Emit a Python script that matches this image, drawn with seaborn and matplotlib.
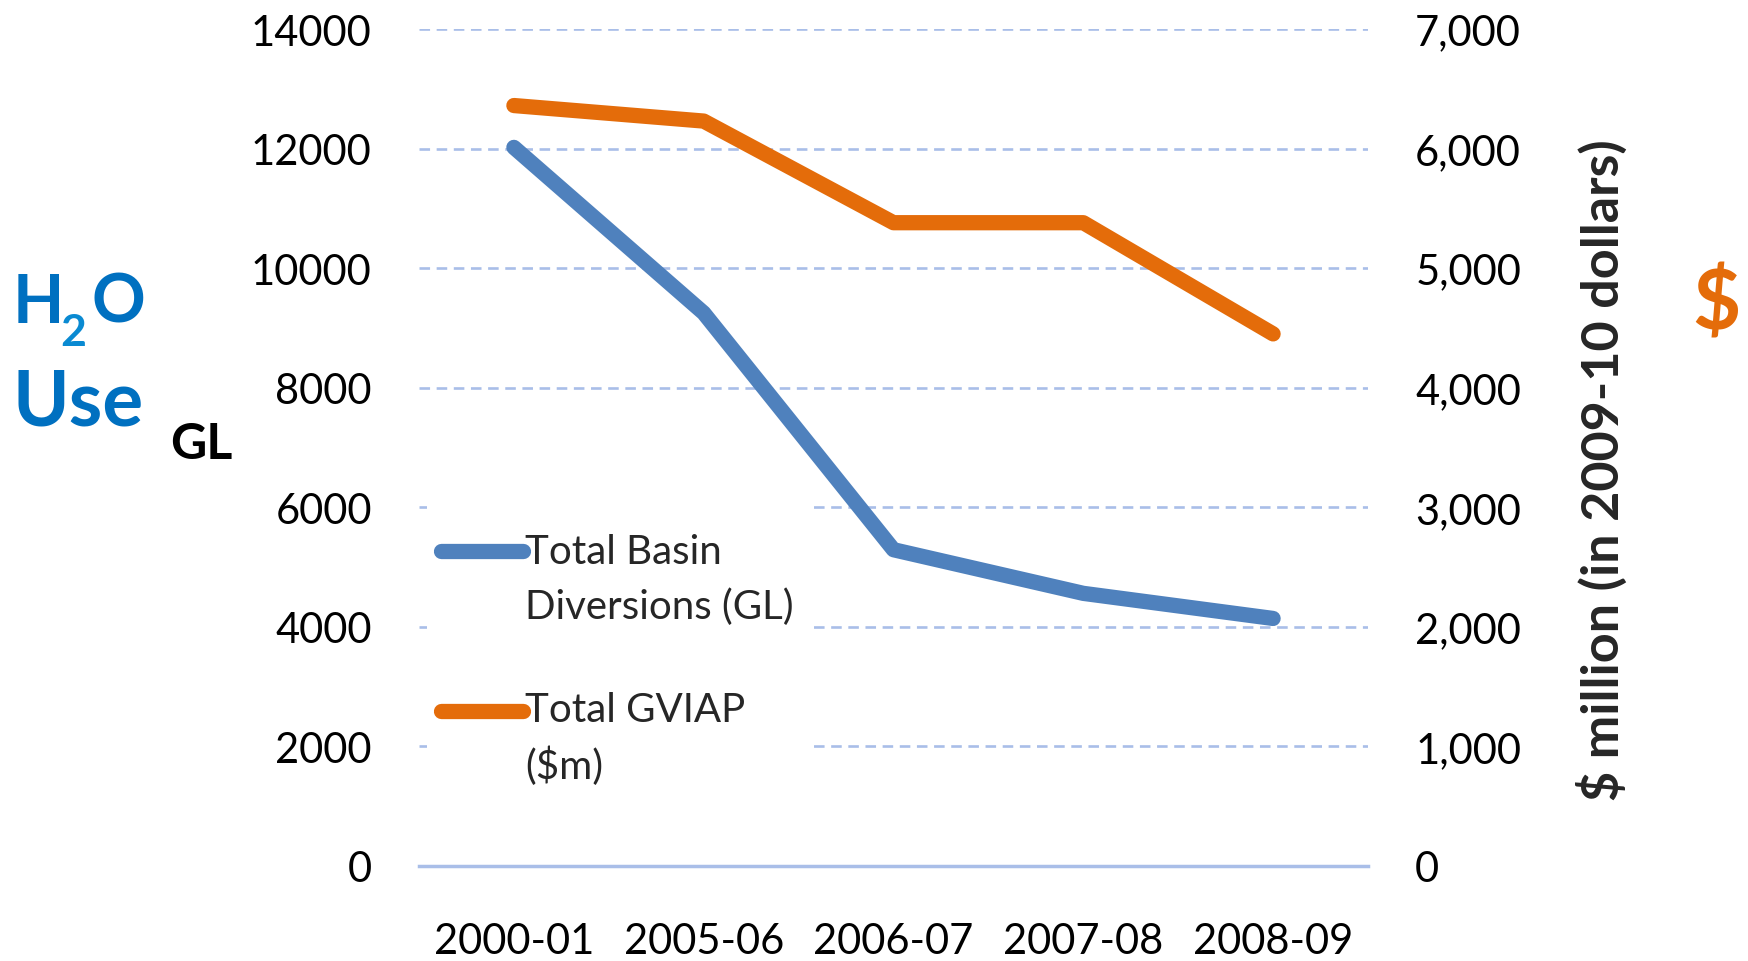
import matplotlib
matplotlib.use("Agg")
import matplotlib.pyplot as plt
import pandas as pd
import seaborn as sns
from matplotlib.legend_handler import HandlerLine2D
from matplotlib.patches import Rectangle
from matplotlib.ticker import FuncFormatter

# data
YEARS = ["2000-01", "2005-06", "2006-07", "2007-08", "2008-09"]
DIVERSIONS_GL = [12020, 9250, 5290, 4560, 4140]
GVIAP_M = [6360, 6230, 5380, 5380, 4450]
LABEL_GL = "Total Basin\nDiversions (GL)"
LABEL_GVIAP = "Total GVIAP\n($m)"

BLUE = "#4F81BD"
ORANGE = "#E46C0A"
TITLE_BLUE = "#0070C0"
GRID = "#A9BEE8"
FONT = ["Lato", "DejaVu Sans"]
LEG_LINESPACING = 1.55


class FirstLineHandler(HandlerLine2D):
    """Put the legend line next to the first line of a two-line label."""

    def create_artists(self, legend, orig_handle, xdescent, ydescent,
                       width, height, fontsize, trans):
        arts = super().create_artists(legend, orig_handle, xdescent, ydescent,
                                      width, height, fontsize, trans)
        shift = 0.5 * 0.91 * LEG_LINESPACING * fontsize
        for a in arts:
            a.set_ydata([y + shift for y in a.get_ydata()])
        return arts


df = pd.DataFrame({
    "pos": range(len(YEARS)),
    "year": YEARS,
    "gl": DIVERSIONS_GL,
    "gviap": GVIAP_M,
})

sns.set_theme(style="white")
plt.rcParams["font.family"] = FONT

fig = plt.figure(figsize=(17.48, 9.62), dpi=100)
ax = fig.add_axes([0.2397, 0.0988, 0.5429, 0.870])
ax2 = ax.twinx()

sns.lineplot(data=df, x="pos", y="gl", ax=ax, color=BLUE, linewidth=11,
             solid_capstyle="round", solid_joinstyle="round", sort=False,
             label=LABEL_GL, legend=False, zorder=3)
sns.lineplot(data=df, x="pos", y="gviap", ax=ax2, color=ORANGE, linewidth=11,
             solid_capstyle="round", solid_joinstyle="round", sort=False,
             label=LABEL_GVIAP, legend=False, zorder=3)

ax.set_xlim(-0.5, len(YEARS) - 0.5)
ax.set_ylim(0, 14000)
ax2.set_ylim(0, 7000)
ax.set_yticks(range(0, 14001, 2000))
ax2.set_yticks(range(0, 7001, 1000))
ax2.yaxis.set_major_formatter(FuncFormatter(lambda v, _: f"{int(v):,}"))
ax.set_xticks(range(len(YEARS)), YEARS)

ax.set_xlabel("")
ax.set_ylabel("")
ax2.set_ylabel("$ million (in 2009-10 dollars)", fontsize=37.5,
               fontweight="bold", labelpad=40, y=0.474)

for a in (ax, ax2):
    for side in ("top", "left", "right", "bottom"):
        a.spines[side].set_visible(False)
    a.tick_params(length=0)
ax.spines["bottom"].set_visible(True)
ax.spines["bottom"].set_color(GRID)
ax.spines["bottom"].set_linewidth(2.5)

ax.tick_params(axis="y", labelsize=30, pad=34, colors="black")
ax2.tick_params(axis="y", labelsize=30, pad=34, colors="black")
ax.tick_params(axis="x", labelsize=30, pad=40, colors="black")

ax.yaxis.grid(True, color=GRID, linestyle=(0, (4, 2.5)), linewidth=1.9)
ax.set_axisbelow(True)

# white backing box of the legend (hides the gridlines behind it)
ax2.add_patch(Rectangle((0.008, 0.077), 0.406, 0.366, transform=ax2.transAxes,
                        facecolor="white", edgecolor="none", zorder=1))

handles = [ax.get_lines()[0], ax2.get_lines()[0]]
leg = ax2.legend(handles, [LABEL_GL, LABEL_GVIAP], loc="upper left",
                 bbox_to_anchor=(0.006, 0.417), fontsize=29, frameon=False,
                 handlelength=2.05, handletextpad=0.05, labelspacing=1.65,
                 borderpad=0.4, borderaxespad=0,
                 handler_map={h: FirstLineHandler() for h in handles})
for t in leg.get_texts():
    t.set_linespacing(LEG_LINESPACING)

# side captions
fig.text(13 / 1748, 1 - 323 / 962, "H", fontsize=48, fontweight="bold",
         color=TITLE_BLUE, va="baseline", ha="left")
fig.text(60 / 1748, 1 - 346 / 962, "2", fontsize=32, fontweight="bold",
         color="#0A8AD2", va="baseline", ha="left")
fig.text(92 / 1748, 1 - 323 / 962, "O", fontsize=48, fontweight="bold",
         color=TITLE_BLUE, va="baseline", ha="left")
fig.text(13 / 1748, 1 - 426 / 962, "Use", fontsize=55, fontweight="bold",
         color=TITLE_BLUE, va="baseline", ha="left")
fig.text(170 / 1748, 1 - 459 / 962, "GL", fontsize=36, fontweight="bold",
         color="black", va="baseline", ha="left")
fig.text(1716 / 1748, 1 - 305 / 962, "$", fontsize=60, fontweight="bold",
         color=ORANGE, va="center", ha="center")

fig.savefig("out.png", dpi=100)
